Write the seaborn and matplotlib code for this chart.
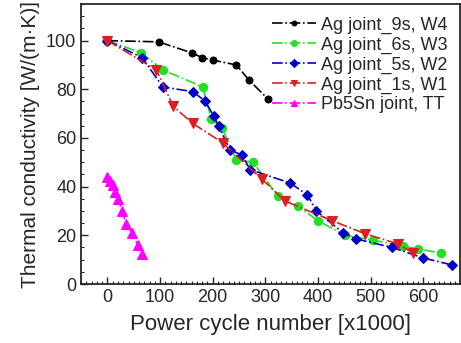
import pandas as pd
import seaborn as sns
import matplotlib.pyplot as plt
from matplotlib.ticker import MultipleLocator

# values
w4_x = [0, 97, 160, 180, 200, 245, 268, 305]
w4_y = [100, 99.5, 95, 93, 92, 90, 84, 76]
w3_x = [0, 64, 105, 181, 197, 218, 245, 277, 324, 362, 400, 452, 505, 562, 590, 634]
w3_y = [100, 95, 88, 81, 68, 64, 51, 50, 36, 32, 26, 20, 18, 15.6, 14.4, 12.7]
w2_x = [0, 66, 105, 163, 186, 202, 211, 233, 256, 271, 347, 380, 397, 448, 473, 541, 600, 655]
w2_y = [100, 93, 81, 79, 75, 69, 65, 55, 53, 47, 41.5, 36.6, 30, 21, 18.5, 15, 10.7, 7.8]
w1_x = [0, 93, 125, 162, 219, 294, 338, 427, 490, 552, 580]
w1_y = [100, 88, 73, 66, 58, 43, 34, 26, 20.6, 16.5, 12.8]
tt_x = [0, 5, 10, 15, 20, 28, 36, 47, 58, 65]
tt_y = [44, 42.5, 40.5, 38, 35, 30, 24.5, 21, 16, 12.5]

series = [
    ("Ag joint_9s, W4", w4_x, w4_y, "black", "o", 5),
    ("Ag joint_6s, W3", w3_x, w3_y, "#22e022", "o", 6),
    ("Ag joint_5s, W2", w2_x, w2_y, "#0000cc", "D", 5.5),
    ("Ag joint_1s, W1", w1_x, w1_y, "#dd1f1f", "v", 6.5),
    ("Pb5Sn joint, TT", tt_x, tt_y, "#ff00ff", "^", 6.5),
]

sns.set_style("ticks")
plt.rcParams['font.family'] = ['Liberation Sans', 'DejaVu Sans']

fig = plt.figure(figsize=(4.61, 3.43), dpi=100)
ax = fig.add_axes([0.176, 0.172, 0.822, 0.816])

for name, xs, ys, col, mk, ms in series:
    df = pd.DataFrame({"x": xs, "y": ys})
    sns.lineplot(data=df, x="x", y="y", sort=False, ax=ax, color=col,
                 marker=mk, markersize=ms, markeredgecolor=col,
                 linestyle="-.", linewidth=1.2, label=name)

ax.set_xlim(-50, 670)
ax.set_ylim(0, 115)
ax.xaxis.set_major_locator(MultipleLocator(100))
ax.xaxis.set_minor_locator(MultipleLocator(10))
ax.yaxis.set_major_locator(MultipleLocator(20))
ax.yaxis.set_minor_locator(MultipleLocator(5))
ax.tick_params(which="both", direction="in", labelsize=13)
ax.tick_params(which="major", length=5, width=1)
ax.tick_params(which="minor", length=2.5, width=0.8)
for s in ax.spines.values():
    s.set_linewidth(1.3)

ax.set_xlabel("Power cycle number [x1000]", fontsize=16, labelpad=6)
ax.set_ylabel("Thermal conductivity [W/(m\u00b7K)]", fontsize=15, labelpad=4)

ax.legend(loc="upper right", frameon=False, fontsize=13, handlelength=2.4,
          handletextpad=0.3, labelspacing=0.15, borderaxespad=0.3,
          markerscale=0.7)

fig.savefig("out.png", dpi=100)
